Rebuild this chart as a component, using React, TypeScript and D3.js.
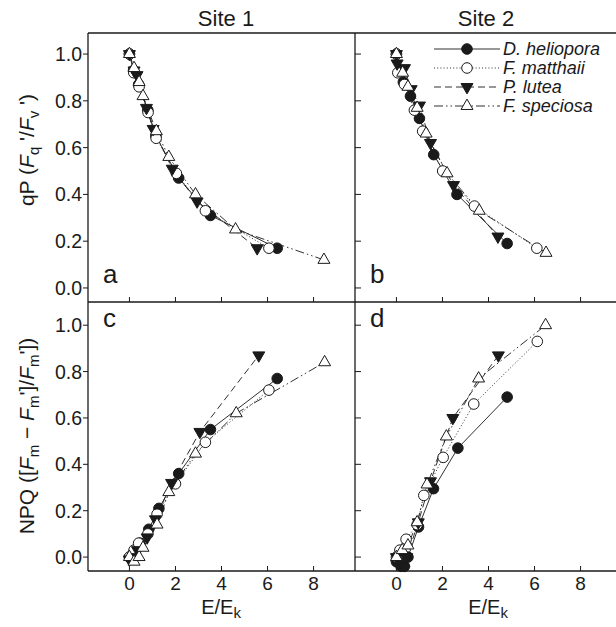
import React from "react";
import * as d3 from "d3";

// series names, in legend order
const species = ["D. heliopora", "F. matthaii", "P.  lutea", "F. speciosa"];
const siteTitles = ["Site 1", "Site 2"];
const panelLetters = ["a", "b", "c", "d"];
const xTicks = [0, 2, 4, 6, 8];
const yTicks = [0, 0.2, 0.4, 0.6, 0.8, 1.0];

// qP, site 1 (panel a): [E/Ek, qP]
const qpSite1Heliopora = [[0, 1.0], [0.18, 0.93], [0.4, 0.87], [0.8, 0.76], [1.15, 0.65], [2.14, 0.47], [3.52, 0.31], [6.42, 0.17]];
const qpSite1Matthaii = [[0, 1.0], [0.19, 0.92], [0.42, 0.86], [0.81, 0.75], [1.16, 0.64], [2.04, 0.49], [3.3, 0.33], [6.06, 0.17]];
const qpSite1Lutea = [[0, 1.0], [0.2, 0.93], [0.33, 0.91], [0.74, 0.77], [1.03, 0.68], [1.86, 0.51], [2.94, 0.37], [5.55, 0.17]];
const qpSite1Speciosa = [[0, 1.0], [0.2, 0.94], [0.42, 0.88], [0.59, 0.82], [1.17, 0.67], [1.71, 0.56], [2.87, 0.4], [4.61, 0.25], [8.45, 0.12]];

// qP, site 2 (panel b)
const qpSite2Heliopora = [[0, 1.0], [0.3, 0.88], [0.61, 0.82], [1.0, 0.725], [1.62, 0.57], [2.63, 0.4], [4.81, 0.19]];
const qpSite2Matthaii = [[0, 1.0], [0.06, 0.92], [0.35, 0.87], [0.78, 0.76], [1.14, 0.67], [2.01, 0.5], [3.39, 0.35], [6.1, 0.17]];
const qpSite2Lutea = [[0, 1.0], [0.03, 0.96], [0.35, 0.94], [0.64, 0.85], [1.0, 0.78], [1.48, 0.62], [2.48, 0.44], [4.41, 0.22]];
const qpSite2Speciosa = [[0, 1.0], [0.27, 0.92], [0.5, 0.86], [0.9, 0.77], [1.29, 0.66], [2.2, 0.49], [3.6, 0.33], [6.5, 0.15]];

// NPQ, site 1 (panel c)
const npqSite1Heliopora = [[0, 0.0], [0.2, 0.02], [0.45, 0.06], [0.84, 0.12], [1.28, 0.21], [2.14, 0.36], [3.52, 0.55], [6.42, 0.77]];
const npqSite1Matthaii = [[0, 0.0], [0.2, 0.03], [0.4, 0.06], [0.8, 0.1], [1.2, 0.185], [2.0, 0.316], [3.3, 0.495], [6.06, 0.72]];
const npqSite1Lutea = [[0, -0.01], [0.2, 0.0], [0.35, 0.03], [0.77, 0.085], [1.13, 0.163], [1.83, 0.32], [3.06, 0.54], [5.62, 0.87]];
const npqSite1Speciosa = [[0, 0.0], [0.2, -0.02], [0.42, 0.0], [0.59, 0.04], [1.2, 0.14], [1.71, 0.28], [2.87, 0.446], [4.64, 0.62], [8.48, 0.84]];

// NPQ, site 2 (panel d)
const npqSite2Heliopora = [[0, -0.02], [0.2, -0.04], [0.35, -0.04], [0.5, 0.0], [0.96, 0.13], [1.61, 0.295], [2.67, 0.47], [4.81, 0.69]];
const npqSite2Matthaii = [[0, 0.0], [0.15, 0.03], [0.42, 0.077], [0.9, 0.14], [1.19, 0.266], [2.03, 0.43], [3.36, 0.66], [6.12, 0.93]];
const npqSite2Lutea = [[0, 0.0], [0.2, -0.02], [0.45, 0.0], [0.95, 0.15], [1.48, 0.327], [2.45, 0.6], [4.43, 0.87]];
const npqSite2Speciosa = [[0, 0.0], [0.25, 0.03], [0.5, 0.05], [0.9, 0.15], [1.33, 0.313], [2.17, 0.52], [3.57, 0.77], [6.48, 1.0]];

const panels = [
  [qpSite1Heliopora, qpSite1Matthaii, qpSite1Lutea, qpSite1Speciosa],
  [qpSite2Heliopora, qpSite2Matthaii, qpSite2Lutea, qpSite2Speciosa],
  [npqSite1Heliopora, npqSite1Matthaii, npqSite1Lutea, npqSite1Speciosa],
  [npqSite2Heliopora, npqSite2Matthaii, npqSite2Lutea, npqSite2Speciosa],
];

const W = 616;
const H = 627;
const left = 88;
const mid = 355;
const panelW = 267;
const top = 33;
const panelH = 269;
const font = "'Liberation Sans', Arial, Helvetica, sans-serif";
const ink = "#1a1a1a";

// per-series styling
const dashes = [null, "1,2.2", "7,4", "9,3,1.5,3,1.5,3"];
const fills = [ink, "#fff", ink, "#fff"];

const triUp = d3.symbol().type(d3.symbolTriangle).size(62)();

const Marker = ({ s, x, y }: { s: number; x: number; y: number }) => {
  if (s === 0 || s === 1) {
    return <circle cx={x} cy={y} r={5.3} fill={fills[s]} stroke={ink} strokeWidth={1} />;
  }
  const rot = s === 2 ? 180 : 0;
  return (
    <path d={triUp} transform={`translate(${x},${y}) rotate(${rot})`} fill={fills[s]} stroke={ink} strokeWidth={1} />
  );
};

const Panel = ({ idx }: { idx: number }) => {
  const col = idx % 2;
  const row = Math.floor(idx / 2);
  const x0 = col === 0 ? left : mid;
  const y0 = top + row * panelH;
  const x = d3.scaleLinear().domain([-1.8, 9.8]).range([x0, x0 + panelW]);
  const y = d3
    .scaleLinear()
    .domain(row === 0 ? [-0.06, 1.09] : [-0.06, 1.1])
    .range([y0 + panelH, y0]);
  const line = d3
    .line<number[]>()
    .x(d => x(d[0]))
    .y(d => y(d[1]));
  const series = panels[idx];
  const fmt = d3.format(".1f");

  return (
    <g>
      {/* x ticks, pointing inward */}
      {xTicks.map(t => (
        <g key={"xt" + t}>
          <line x1={x(t)} x2={x(t)} y1={y0 + panelH} y2={y0 + panelH - 5} stroke={ink} strokeWidth={1} />
          {row === 1 && (
            <text x={x(t)} y={y0 + panelH + 19} textAnchor="middle" fontSize={19} fontFamily={font} fill={ink}>
              {t}
            </text>
          )}
        </g>
      ))}
      {/* y ticks */}
      {yTicks.map(t => (
        <g key={"yt" + t}>
          {col === 0 ? (
            <line x1={x0 - 5} x2={x0} y1={y(t)} y2={y(t)} stroke={ink} strokeWidth={1} />
          ) : (
            <line x1={x0} x2={x0 + 6} y1={y(t)} y2={y(t)} stroke={ink} strokeWidth={1} />
          )}
          {col === 0 && (
            <text x={x0 - 6} y={y(t) + 7} textAnchor="end" fontSize={19.5} fontFamily={font} fill={ink}>
              {fmt(t)}
            </text>
          )}
        </g>
      ))}
      {/* lines */}
      {series.map((pts, s) => (
        <path
          key={"l" + s}
          d={line(pts) || ""}
          fill="none"
          stroke={ink}
          strokeWidth={0.9}
          strokeDasharray={dashes[s] || undefined}
        />
      ))}
      {/* markers */}
      {series.map((pts, s) =>
        pts.map((p, i) => <Marker key={`m${s}-${i}`} s={s} x={x(p[0])} y={y(p[1])} />)
      )}
      <text x={x0 + 15} y={y0 + (row === 0 ? 250 : 25)} fontSize={26} fontFamily={font} fill={ink}>
        {panelLetters[idx]}
      </text>
    </g>
  );
};

const Legend = () => {
  const lx0 = 434;
  const lx1 = 500;
  const rows = [49, 68, 87, 106];
  return (
    <g>
      {species.map((name, s) => (
        <g key={name}>
          <line x1={lx0} x2={lx1} y1={rows[s]} y2={rows[s]} stroke={ink} strokeWidth={0.9} strokeDasharray={dashes[s] || undefined} />
          <Marker s={s} x={(lx0 + lx1) / 2} y={rows[s]} />
          <text x={503} y={rows[s] + 6} fontSize={18} fontStyle="italic" fontFamily={font} fill={ink}>
            {name}
          </text>
        </g>
      ))}
    </g>
  );
};

const App = () => {
  const sub = 15;
  return (
    <svg width={W} height={H} style={{ position: "absolute", left: 0, top: 0, background: "#fff" }}>
      <rect width={W} height={H} fill="#fff" />
      {[0, 1, 2, 3].map(i => (
        <Panel key={i} idx={i} />
      ))}
      {/* frame */}
      <g stroke={ink} strokeWidth={1.3} fill="none">
        <line x1={left} x2={W} y1={top} y2={top} />
        <line x1={left} x2={W} y1={top + panelH} y2={top + panelH} />
        <line x1={left} x2={W} y1={top + 2 * panelH} y2={top + 2 * panelH} />
        <line x1={left} x2={left} y1={top} y2={top + 2 * panelH} />
        <line x1={mid} x2={mid} y1={top} y2={top + 2 * panelH} />
      </g>
      <Legend />
      {siteTitles.map((t, i) => (
        <text key={t} x={i === 0 ? 226 : 486} y={26} textAnchor="middle" fontSize={22} fontFamily={font} fill={ink}>
          {t}
        </text>
      ))}
      {[221, 488].map((cx, i) => (
        <text key={"xl" + i} x={cx} y={614} textAnchor="middle" fontSize={20} fontFamily={font} fill={ink}>
          <tspan>E/E</tspan>
          <tspan dy={4} fontSize={sub}>k</tspan>
        </text>
      ))}
      <text transform="translate(34,150) rotate(-90)" textAnchor="middle" fontSize={21} fontFamily={font} fill={ink}>
        <tspan>qP (</tspan>
        <tspan fontStyle="italic">F</tspan>
        <tspan dy={5} fontSize={sub}>q</tspan>
        <tspan dy={-5}> '/</tspan>
        <tspan fontStyle="italic">F</tspan>
        <tspan dy={5} fontSize={sub}>v</tspan>
        <tspan dy={-5}> ')</tspan>
      </text>
      <text transform="translate(34,436) rotate(-90)" textAnchor="middle" fontSize={21} fontFamily={font} fill={ink}>
        <tspan>NPQ ([</tspan>
        <tspan fontStyle="italic">F</tspan>
        <tspan dy={5} fontSize={sub}>m</tspan>
        <tspan dy={-5}> − </tspan>
        <tspan fontStyle="italic">F</tspan>
        <tspan dy={5} fontSize={sub}>m</tspan>
        <tspan dy={-5}>']/</tspan>
        <tspan fontStyle="italic">F</tspan>
        <tspan dy={5} fontSize={sub}>m</tspan>
        <tspan dy={-5}>'])</tspan>
      </text>
    </svg>
  );
};

export default App;
